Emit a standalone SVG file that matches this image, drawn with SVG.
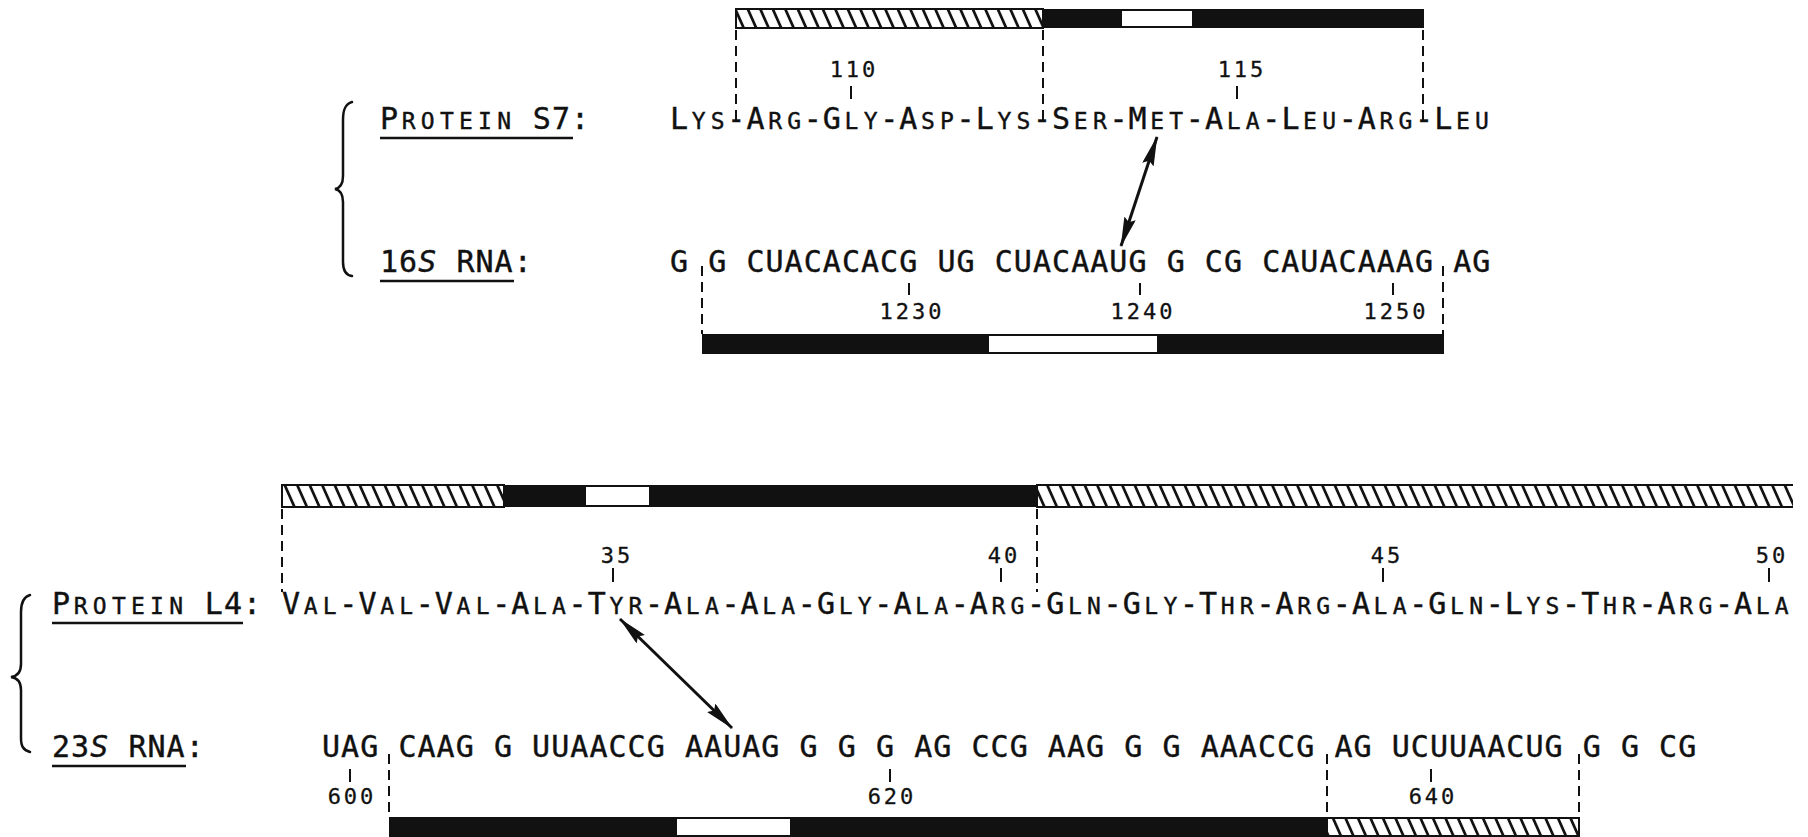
<svg xmlns="http://www.w3.org/2000/svg" width="1808" height="837" viewBox="0 0 1808 837">
<style>
.seq{font-family:"DejaVu Sans Mono","Liberation Mono",monospace;font-size:30px;letter-spacing:1.04px;fill:#111;stroke:#111;stroke-width:0.4}
.sc{font-size:23px;letter-spacing:5.25px}
.it{font-style:italic}
.num{font-family:"DejaVu Sans Mono","Liberation Mono",monospace;font-size:22px;letter-spacing:3px;fill:#111;stroke:#111;stroke-width:0.3;text-anchor:middle}
.tick{stroke:#111;stroke-width:2}
.dash{stroke:#111;stroke-width:2;stroke-dasharray:10 6;fill:none}
.ul{stroke:#111;stroke-width:2.5}
.blk{fill:#111}
.wht{fill:#fff;stroke:#111;stroke-width:2}
.hat{fill:url(#hatch);stroke:#111;stroke-width:2}
.brace{fill:none;stroke:#111;stroke-width:2.5;stroke-linecap:round}
.arr{stroke:#111;stroke-width:3;marker-start:url(#ah);marker-end:url(#ah)}
</style>
<defs>
<pattern id="hatch" patternUnits="userSpaceOnUse" width="12.5" height="10" patternTransform="skewX(24)">
<rect width="12.5" height="10" fill="#fff"/>
<line x1="6.25" y1="-1" x2="6.25" y2="11" stroke="#111" stroke-width="3"/>
</pattern>
<marker id="ah" viewBox="0 0 30 12" refX="29" refY="6" markerWidth="30" markerHeight="12" markerUnits="userSpaceOnUse" orient="auto-start-reverse">
<path d="M0,0 L30,6 L0,12 L4,6 Z" fill="#111"/>
</marker>
<clipPath id="clipR"><rect x="0" y="0" width="1793" height="837"/></clipPath>
</defs>
<rect width="1808" height="837" fill="#fff"/>

<g id="s7-bar">
<rect class="hat" x="736" y="9" width="307" height="19"/>
<rect class="blk" x="1043" y="9" width="78" height="19"/>
<rect class="wht" x="1121" y="10" width="72" height="17"/>
<rect class="blk" x="1193" y="9" width="231" height="19"/>
</g>

<g id="s7-numbers">
<text class="num" x="854" y="77">110</text>
<line class="tick" x1="851" y1="86" x2="851" y2="99"/>
<text class="num" x="1242" y="77">115</text>
<line class="tick" x1="1237" y1="86" x2="1237" y2="99"/>
</g>

<g id="protein-s7">
<text class="seq" x="380" y="129">P<tspan class="sc" dx="2.6">ROTEIN</tspan><tspan dx="-2.6"> S7:</tspan></text>
<line class="ul" x1="380" y1="138" x2="573" y2="138"/>
<text class="seq" x="670" y="129">L<tspan class="sc" dx="2.6">YS</tspan><tspan dx="-2.6">-</tspan>A<tspan class="sc" dx="2.6">RG</tspan><tspan dx="-2.6">-</tspan>G<tspan class="sc" dx="2.6">LY</tspan><tspan dx="-2.6">-</tspan>A<tspan class="sc" dx="2.6">SP</tspan><tspan dx="-2.6">-</tspan>L<tspan class="sc" dx="2.6">YS</tspan><tspan dx="-2.6">-</tspan>S<tspan class="sc" dx="2.6">ER</tspan><tspan dx="-2.6">-</tspan>M<tspan class="sc" dx="2.6">ET</tspan><tspan dx="-2.6">-</tspan>A<tspan class="sc" dx="2.6">LA</tspan><tspan dx="-2.6">-</tspan>L<tspan class="sc" dx="2.6">EU</tspan><tspan dx="-2.6">-</tspan>A<tspan class="sc" dx="2.6">RG</tspan><tspan dx="-2.6">-</tspan>L<tspan class="sc" dx="2.6">EU</tspan></text>
</g>

<g id="rna-16s">
<text class="seq" x="380" y="272">16<tspan class="it">S</tspan> RNA:</text>
<line class="ul" x1="380" y1="281" x2="514" y2="281"/>
<text class="seq" x="670" y="272">G G CUACACACG UG CUACAAUG G CG CAUACAAAG AG</text>
</g>

<g id="rna16s-numbers">
<line class="tick" x1="909" y1="283" x2="909" y2="295"/>
<text class="num" x="912" y="319">1230</text>
<line class="tick" x1="1140" y1="283" x2="1140" y2="295"/>
<text class="num" x="1143" y="319">1240</text>
<line class="tick" x1="1393" y1="283" x2="1393" y2="295"/>
<text class="num" x="1396" y="319">1250</text>
</g>

<g id="rna16s-bar">
<rect class="blk" x="702" y="334" width="286" height="20"/>
<rect class="wht" x="988" y="335" width="170" height="18"/>
<rect class="blk" x="1158" y="334" width="286" height="20"/>
</g>

<g id="brace-top">
<path class="brace" d="M352,102 C345,104 343,110 343,120 L343,176 C343,184 340,188 335,189 C340,190 343,194 343,202 L343,262 C343,270 345,275 352,276"/>
</g>

<g id="l4-bar" clip-path="url(#clipR)">
<rect class="hat" x="282" y="485" width="222" height="22"/>
<rect class="blk" x="504" y="485" width="81" height="22"/>
<rect class="wht" x="585" y="486" width="65" height="20"/>
<rect class="blk" x="650" y="485" width="387" height="22"/>
<rect class="hat" x="1037" y="485" width="780" height="22"/>
</g>

<g id="l4-numbers">
<text class="num" x="617" y="563">35</text>
<line class="tick" x1="613" y1="568" x2="613" y2="582"/>
<text class="num" x="1004" y="563">40</text>
<line class="tick" x1="1001" y1="568" x2="1001" y2="582"/>
<text class="num" x="1387" y="563">45</text>
<line class="tick" x1="1383" y1="568" x2="1383" y2="582"/>
<text class="num" x="1772" y="563">50</text>
<line class="tick" x1="1769" y1="568" x2="1769" y2="582"/>
</g>

<g id="protein-l4">
<text class="seq" x="52" y="614">P<tspan class="sc" dx="2.6">ROTEIN</tspan><tspan dx="-2.6"> L4:</tspan></text>
<line class="ul" x1="52" y1="623" x2="243" y2="623"/>
<text class="seq" x="282" y="614" clip-path="url(#clipR)">V<tspan class="sc" dx="2.6">AL</tspan><tspan dx="-2.6">-</tspan>V<tspan class="sc" dx="2.6">AL</tspan><tspan dx="-2.6">-</tspan>V<tspan class="sc" dx="2.6">AL</tspan><tspan dx="-2.6">-</tspan>A<tspan class="sc" dx="2.6">LA</tspan><tspan dx="-2.6">-</tspan>T<tspan class="sc" dx="2.6">YR</tspan><tspan dx="-2.6">-</tspan>A<tspan class="sc" dx="2.6">LA</tspan><tspan dx="-2.6">-</tspan>A<tspan class="sc" dx="2.6">LA</tspan><tspan dx="-2.6">-</tspan>G<tspan class="sc" dx="2.6">LY</tspan><tspan dx="-2.6">-</tspan>A<tspan class="sc" dx="2.6">LA</tspan><tspan dx="-2.6">-</tspan>A<tspan class="sc" dx="2.6">RG</tspan><tspan dx="-2.6">-</tspan>G<tspan class="sc" dx="2.6">LN</tspan><tspan dx="-2.6">-</tspan>G<tspan class="sc" dx="2.6">LY</tspan><tspan dx="-2.6">-</tspan>T<tspan class="sc" dx="2.6">HR</tspan><tspan dx="-2.6">-</tspan>A<tspan class="sc" dx="2.6">RG</tspan><tspan dx="-2.6">-</tspan>A<tspan class="sc" dx="2.6">LA</tspan><tspan dx="-2.6">-</tspan>G<tspan class="sc" dx="2.6">LN</tspan><tspan dx="-2.6">-</tspan>L<tspan class="sc" dx="2.6">YS</tspan><tspan dx="-2.6">-</tspan>T<tspan class="sc" dx="2.6">HR</tspan><tspan dx="-2.6">-</tspan>A<tspan class="sc" dx="2.6">RG</tspan><tspan dx="-2.6">-</tspan>A<tspan class="sc" dx="2.6">LA</tspan></text>
</g>

<g id="rna-23s">
<text class="seq" x="52" y="757">23<tspan class="it">S</tspan> RNA:</text>
<line class="ul" x1="52" y1="766" x2="186" y2="766"/>
<text class="seq" x="322" y="757">UAG CAAG G UUAACCG AAUAG G G G AG CCG AAG G G AAACCG AG UCUUAACUG G G CG</text>
</g>

<g id="rna23s-numbers">
<line class="tick" x1="350" y1="769" x2="350" y2="782"/>
<text class="num" x="352" y="804">600</text>
<line class="tick" x1="890" y1="769" x2="890" y2="782"/>
<text class="num" x="892" y="804">620</text>
<line class="tick" x1="1431" y1="769" x2="1431" y2="782"/>
<text class="num" x="1433" y="804">640</text>
</g>

<g id="rna23s-bar">
<rect class="blk" x="389" y="817" width="287" height="20"/>
<rect class="wht" x="676" y="818" width="115" height="18"/>
<rect class="blk" x="791" y="817" width="536" height="20"/>
<rect class="hat" x="1327" y="818" width="252" height="18"/>
</g>

<g id="brace-bottom">
<path class="brace" d="M30,595 C23,597 21,603 21,612 L21,664 C21,672 18,676 11,677 C18,678 21,682 21,690 L21,738 C21,746 23,750 30,752"/>
</g>

<g id="connectors">
<line class="dash" x1="736" y1="30" x2="736" y2="126"/>
<line class="dash" x1="1043" y1="30" x2="1043" y2="126"/>
<line class="dash" x1="1423" y1="30" x2="1423" y2="126"/>
<line class="dash" x1="702" y1="266" x2="702" y2="334"/>
<line class="dash" x1="1443" y1="266" x2="1443" y2="334"/>
<line class="dash" x1="282" y1="509" x2="282" y2="592"/>
<line class="dash" x1="1037" y1="509" x2="1037" y2="592"/>
<line class="dash" x1="389" y1="754" x2="389" y2="817"/>
<line class="dash" x1="1327" y1="754" x2="1327" y2="817"/>
<line class="dash" x1="1579" y1="754" x2="1579" y2="817"/>
<line class="arr" x1="1157" y1="137" x2="1121" y2="246"/>
<line class="arr" x1="620" y1="619" x2="732" y2="728"/>
</g>
</svg>
